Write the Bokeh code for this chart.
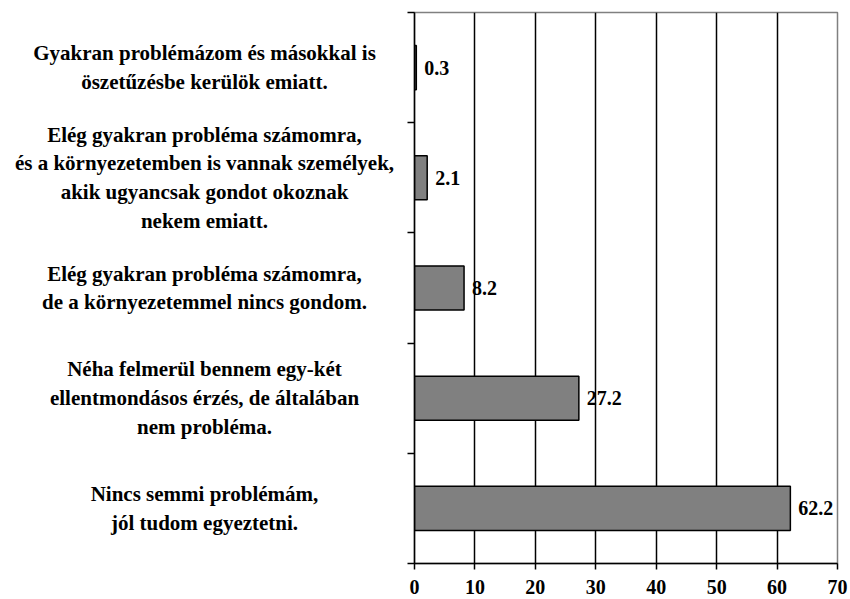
from bokeh.plotting import figure
from bokeh.layouts import row
from bokeh.models import Range1d, FixedTicker, ColumnDataSource
from bokeh.embed import file_html
from bokeh.resources import INLINE
from bokeh.core.properties import value

categories = [
    "Gyakran problémázom és másokkal is\nöszetűzésbe kerülök emiatt.",
    "Elég gyakran probléma számomra,\nés a környezetemben is vannak személyek,\nakik ugyancsak gondot okoznak\nnekem emiatt.",
    "Elég gyakran probléma számomra,\nde a környezetemmel nincs gondom.",
    "Néha felmerül bennem egy-két\nellentmondásos érzés, de általában\nnem probléma.",
    "Nincs semmi problémám,\njól tudom egyeztetni.",
]
values = [0.3, 2.1, 8.2, 27.2, 62.2]
x_ticks = [0, 10, 20, 30, 40, 50, 60, 70]

FONT = "'Liberation Serif', 'Times New Roman', serif"
FS = "20px"
n = len(categories)
ypos = list(range(n))
yr = Range1d(n - 0.5, -0.5)
src = ColumnDataSource(dict(y=ypos, v=values, cat=categories,
                            lbl=[f"{x:.1f}" for x in values]))

# ---- left panel: category labels ----
LW = 400
lp = figure(width=LW, height=599, output_backend="svg", toolbar_location=None,
            x_range=Range1d(0, LW), y_range=yr,
            min_border_left=0, min_border_right=0, min_border_top=12, min_border_bottom=36)
lp.axis.visible = False
lp.grid.visible = False
lp.outline_line_color = None
lp.text(x=LW / 2 + 4, y="y", text="cat", source=src,
        text_font=value(FONT), text_font_style="bold", text_font_size="21px",
        text_align="center", text_baseline="middle", text_color="black",
        text_line_height=1.2)

# ---- main chart ----
p = figure(width=850 - LW, height=599, output_backend="svg", toolbar_location=None,
           x_range=Range1d(0, 70), y_range=yr,
           min_border_left=14, min_border_top=12, min_border_right=13, min_border_bottom=36)
p.outline_line_color = "#808080"
p.outline_line_width = 1.5
p.background_fill_color = "white"
p.border_fill_color = "white"

p.hbar(y="y", right="v", left=0, height=0.4, source=src,
       fill_color="#808080", line_color="black", line_width=1.5)
p.text(x="v", y="y", text="lbl", source=src, x_offset=8,
       text_font=value(FONT), text_font_style="bold", text_font_size=FS,
       text_align="left", text_baseline="middle", text_color="black")

# x axis
p.xaxis.ticker = FixedTicker(ticks=x_ticks)
p.xaxis.axis_line_color = "black"
p.xaxis.axis_line_width = 1.5
p.xaxis.major_tick_line_color = "black"
p.xaxis.major_tick_line_width = 1.5
p.xaxis.major_tick_out = 6
p.xaxis.major_tick_in = 0
p.xaxis.minor_tick_line_color = None
p.xaxis.major_label_text_font = FONT
p.xaxis.major_label_text_font_style = "bold"
p.xaxis.major_label_text_font_size = FS
p.xaxis.major_label_text_color = "black"
p.xaxis.major_label_standoff = 10
p.xaxis.major_label_text_baseline = "top"

# y axis: only boundary ticks between categories
p.yaxis.ticker = FixedTicker(ticks=[], minor_ticks=[i - 0.5 for i in range(n + 1)])
p.yaxis.axis_line_color = "black"
p.yaxis.axis_line_width = 1.5
p.yaxis.major_tick_line_color = None
p.yaxis.minor_tick_line_color = "black"
p.yaxis.minor_tick_line_width = 1.5
p.yaxis.minor_tick_out = 7
p.yaxis.minor_tick_in = 0

p.xgrid.ticker = FixedTicker(ticks=x_ticks[1:-1])
p.xgrid.grid_line_color = "black"
p.xgrid.grid_line_width = 1.5
p.ygrid.grid_line_color = None

layout = row(lp, p, spacing=0)
open("out.html", "w").write(file_html(layout, INLINE))
